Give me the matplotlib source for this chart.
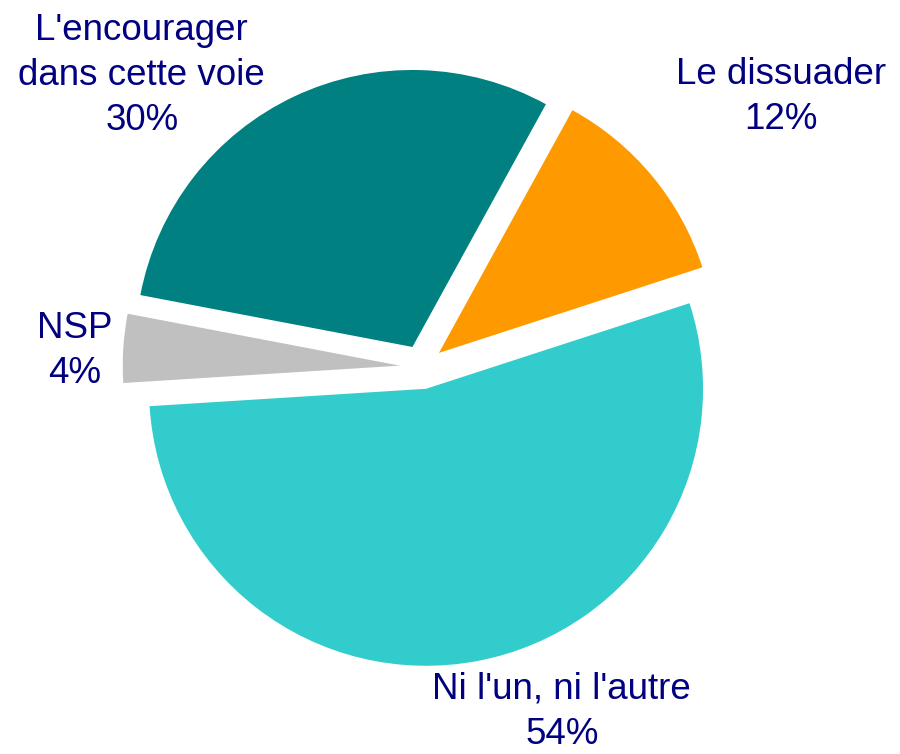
import matplotlib
matplotlib.use('Agg')
import matplotlib.pyplot as plt

# data (clockwise order, starting from the top-right slice)
labels = ["Le dissuader", "Ni l'un, ni l'autre", "NSP", "L'encourager\ndans cette voie"]
values = [12, 54, 4, 30]
colors = ['#FF9900', '#33CCCC', '#C0C0C0', '#008080']

# where each label block sits, in pie units (radius = 1)
label_pos = [(1.296, 0.975), (0.505, -1.245), (-1.253, 0.058), (-1.011, 1.051)]

plt.rcParams['font.family'] = ['Liberation Sans', 'DejaVu Sans']

fig = plt.figure(figsize=(9, 7.54), dpi=100)
ax = fig.add_axes([0, 0, 1, 1])

ax.pie(values, colors=colors, startangle=61.2, counterclock=False,
       explode=[0.08] * len(values), radius=1,
       wedgeprops=dict(linewidth=0))

for lab, val, (x, y) in zip(labels, values, label_pos):
    ax.text(x, y, '%s\n%d%%' % (lab, val), ha='center', va='center',
            fontsize=26.5, color='#000080', linespacing=1.37)

ax.set_aspect('auto')
ax.set_xlim(-1.523, 1.726)
ax.set_ylim(-1.397, 1.325)
ax.axis('off')

fig.savefig('out.png', dpi=100, facecolor='white')
